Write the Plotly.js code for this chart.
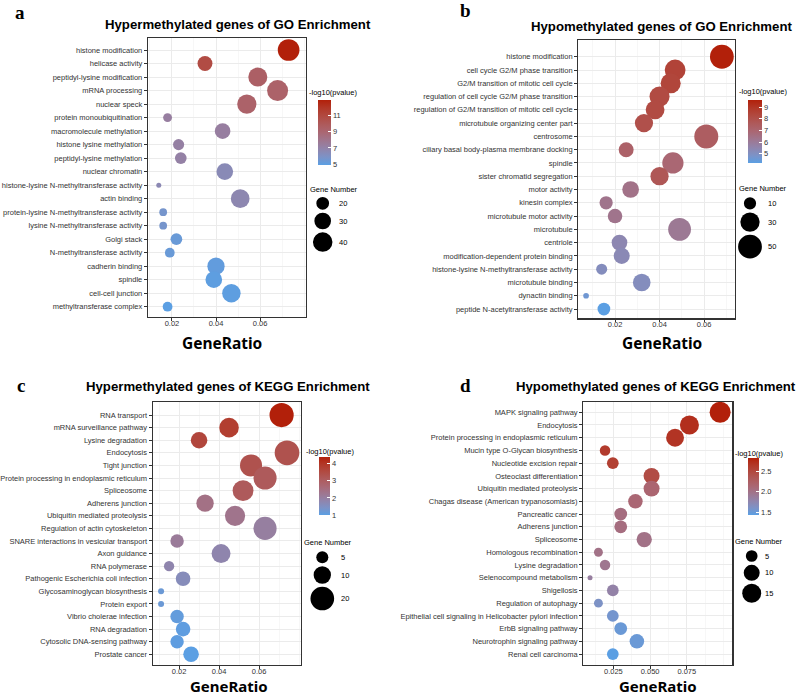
<!DOCTYPE html>
<html><head><meta charset="utf-8">
<script src="https://cdn.plot.ly/plotly-3.0.1.min.js"></script>
<style>html,body{margin:0;padding:0;background:#fff}#chart{width:800px;height:695px}</style>
</head><body><div id="chart"></div>
<script>
// ---------- Panel a : Hypermethylated genes, GO ----------
const termsA = ["histone modification","helicase activity","peptidyl-lysine modification","mRNA processing","nuclear speck","protein monoubiquitination","macromolecule methylation","histone lysine methylation","peptidyl-lysine methylation","nuclear chromatin","histone-lysine N-methyltransferase activity","actin binding","protein-lysine N-methyltransferase activity","lysine N-methyltransferase activity","Golgi stack","N-methyltransferase activity","cadherin binding","spindle","cell-cell junction","methyltransferase complex"];
const ratioA = [0.073,0.035,0.059,0.068,0.054,0.018,0.043,0.023,0.024,0.044,0.014,0.051,0.016,0.016,0.022,0.019,0.040,0.039,0.047,0.018];
const countA = [49,25,38,46,39,14,27,17,18,30,12,37,13,13,18,15,32,30,36,15];
const logpA  = [12.9,10.8,9.5,9.3,9.3,7.3,7.3,7.2,7.1,6.5,6.6,6.7,5.7,5.7,5.3,5.3,5.1,5.0,5.0,4.9];
const sizeBreaksA = [20,30,40];
const colorTicksA = [5,7,9,11];
const xTicksA = [0.02,0.04,0.06];

// ---------- Panel b : Hypomethylated genes, GO ----------
const termsB = ["histone modification","cell cycle G2/M phase transition","G2/M transition of mitotic cell cycle","regulation of cell cycle G2/M phase transition","regulation of G2/M transition of mitotic cell cycle","microtubule organizing center part","centrosome","ciliary basal body-plasma membrane docking","spindle","sister chromatid segregation","motor activity","kinesin complex","microtubule motor activity","microtubule","centriole","modification-dependent protein binding","histone-lysine N-methyltransferase activity","microtubule binding","dynactin binding","peptide N-acetyltransferase activity"];
const ratioB = [0.068,0.047,0.045,0.040,0.038,0.033,0.061,0.025,0.046,0.040,0.027,0.016,0.020,0.049,0.022,0.023,0.014,0.032,0.007,0.015];
const countB = [50,36,33,33,28,26,51,16,38,26,21,12,15,45,18,19,8,24,4,11];
const logpB  = [9.6,8.5,8.4,8.2,8.2,8.0,7.4,7.2,6.9,7.7,6.4,6.3,6.3,6.1,5.4,5.3,5.1,5.1,4.6,4.2];
const sizeBreaksB = [10,30,50];
const colorTicksB = [5,6,7,8,9];
const xTicksB = [0.02,0.04,0.06];

// ---------- Panel c : Hypermethylated genes, KEGG ----------
const termsC = ["RNA transport","mRNA surveillance pathway","Lysine degradation","Endocytosis","Tight junction","Protein processing in endoplasmic reticulum","Spliceosome","Adherens junction","Ubiquitin mediated proteolysis","Regulation of actin cytoskeleton","SNARE interactions in vesicular transport","Axon guidance","RNA polymerase","Pathogenic Escherichia coli infection","Glycosaminoglycan biosynthesis","Protein export","Vibrio cholerae infection","RNA degradation","Cytosolic DNA-sensing pathway","Prostate cancer"];
const ratioC = [0.0713,0.045,0.030,0.074,0.056,0.063,0.052,0.033,0.048,0.063,0.019,0.041,0.015,0.022,0.011,0.011,0.019,0.022,0.019,0.026];
const countC = [21,13,9,22,17,19,15,10,14,19,6,12,4,7,3,3,6,7,6,8];
const logpC  = [4.35,3.8,3.6,3.3,3.3,3.1,3.1,2.4,2.3,2.0,2.1,1.8,1.8,1.6,1.2,1.2,1.1,1.05,1.05,1.0];
const sizeBreaksC = [5,10,20];
const colorTicksC = [1,2,3,4];
const xTicksC = [0.02,0.04,0.06];

// ---------- Panel d : Hypomethylated genes, KEGG ----------
const termsD = ["MAPK signaling pathway","Endocytosis","Protein processing in endoplasmic reticulum","Mucin type O-Glycan biosynthesis","Nucleotide excision repair","Osteoclast differentiation","Ubiquitin mediated proteolysis","Chagas disease (American trypanosomiasis)","Pancreatic cancer","Adherens junction","Spliceosome","Homologous recombination","Lysine degradation","Selenocompound metabolism","Shigellosis","Regulation of autophagy","Epithelial cell signaling in Helicobacter pylori infection","ErbB signaling pathway","Neurotrophin signaling pathway","Renal cell carcinoma"];
const ratioD = [0.0977,0.0768,0.067,0.0193,0.0246,0.051,0.051,0.040,0.030,0.030,0.046,0.0148,0.0193,0.0091,0.0246,0.0148,0.0246,0.030,0.041,0.0246];
const countD = [19,15,13,4,5,10,10,8,6,6,9,3,4,2,5,3,5,6,8,5];
const logpD  = [2.83,2.72,2.68,2.62,2.58,2.45,2.15,2.12,2.05,2.05,2.0,2.0,1.95,1.85,1.8,1.6,1.55,1.5,1.5,1.42];
const sizeBreaksD = [5,10,15];
const colorTicksD = [1.5,2.0,2.5];
const xTicksD = [0.025,0.050,0.075];

const titles = ["Hypermethylated genes of GO Enrichment","Hypomethylated genes of GO Enrichment","Hypermethylated genes of KEGG Enrichment","Hypomethylated genes of KEGG Enrichment"];
const letters = ["a","b","c","d"];
const xLabel = "GeneRatio";
const colorTitle = "-log10(pvalue)";
const sizeTitle = "Gene Number";

// ---------- layout / style ----------
const W = 800, H = 695;
const FX = x => x / W, FY = y => 1 - y / H;
const SANS = "Liberation Sans, Arial, sans-serif";
const cs = [[0,'rgb(91,159,227)'],[0.125,'rgb(125,146,198)'],[0.25,'rgb(145,132,171)'],[0.375,'rgb(159,118,143)'],[0.5,'rgb(170,103,115)'],[0.625,'rgb(174,90,91)'],[0.75,'rgb(177,74,65)'],[0.875,'rgb(178,56,40)'],[1,'rgb(178,32,10)']];

const panels = [
  {terms:termsA, ratio:ratioA, count:countA, logp:logpA, sb:sizeBreaksA, ct:colorTicksA, xt:xTicksA,
   box:[148,306,38,317], xr:[0.0091,0.0809], pad:[0.89,0.76], dt:0.02, fmt:'.2f',
   cb:[318.3,100,65,13], cbt:[307,92.7], gnt:[307.7,189.3], lg:[322.7,203.3,336.7], d:[5,21.7],
   tt:[237.5,24.3], lt:[20,12], xl:[222,343], xs:15.5},
  {terms:termsB, ratio:ratioB, count:countB, logp:logpB, sb:sizeBreaksB, ct:colorTicksB, xt:xTicksB,
   box:[578.3,735,40,318.3], xr:[0.0035,0.0739], pad:[1.26,0.7], dt:0.02, fmt:'.2f',
   cb:[748,100,63,14], cbt:[736.7,91.7], gnt:[736.7,188.3], lg:[750,203.3,765.7], d:[5.7,24],
   tt:[661,26.7], lt:[465,10], xl:[661.7,342.7], xs:15.5},
  {terms:termsC, ratio:ratioC, count:countC, logp:logpC, sb:sizeBreaksC, ct:colorTicksC, xt:xTicksC,
   box:[152.7,301,401.7,665], xr:[0.0068,0.081], pad:[1.06,0.85], dt:0.02, fmt:'.2f',
   cb:[319,457.3,57.7,11], cbt:[304,451.7], gnt:[302.3,542.7], lg:[322.3,557.3,339.3], d:[6,24.7],
   tt:[228,386.7], lt:[21,385], xl:[229,685.5], xs:15},
  {terms:termsD, ratio:ratioD, count:countD, logp:logpD, sb:sizeBreaksD, ct:colorTicksD, xt:xTicksD,
   box:[583.3,732.3,401.7,665], xr:[0.0045,0.106], pad:[0.83,0.86], dt:0.025, fmt:'.3f',
   cb:[748,458.3,57.4,10.5], cbt:[733.3,453.3], gnt:[733.3,541.7], lg:[751.7,556,763.3], d:[5,21],
   tt:[656,386.7], lt:[465,385], xl:[658,685.5], xs:15}
];

const data = [];
const layout = {width:W, height:H, margin:{l:0,r:0,t:0,b:0}, paper_bgcolor:'#fff', plot_bgcolor:'#fff',
  showlegend:false, annotations:[], shapes:[], font:{family:SANS}};

panels.forEach((p, i) => {
  const k = i === 0 ? '' : String(i + 1);
  const nmin = Math.min(...p.count), nmax = Math.max(...p.count);
  const sz = n => p.d[0] + (p.d[1] - p.d[0]) * Math.sqrt(Math.max(0, (n - nmin) / (nmax - nmin)));
  const cmin = Math.min(...p.logp), cmax = Math.max(...p.logp);
  data.push({type:'scatter', mode:'markers', x:p.ratio, y:p.terms, xaxis:'x'+k, yaxis:'y'+k,
    marker:{size:p.count.map(sz), color:p.logp, coloraxis:'coloraxis'+k, line:{width:0}, opacity:1},
    hoverinfo:'x+y'});
  const n = p.terms.length;
  layout['xaxis'+k] = {domain:[FX(p.box[0]), FX(p.box[1])], anchor:'y'+k, range:p.xr,
    tickmode:'array', tickvals:p.xt, ticktext:p.xt.map(v => v.toFixed(p.fmt === '.3f' ? 3 : 2)),
    showgrid:true, gridcolor:'#EBEBEB', gridwidth:1,
    minor:{dtick:p.dt/2, tick0:0, showgrid:true, gridcolor:'#F2F2F2', gridwidth:0.6, ticks:''},
    showline:true, mirror:true, linecolor:'#333', linewidth:1.2, zeroline:false,
    ticks:'outside', ticklen:2.5, tickwidth:1, tickcolor:'#333', ticklabelstandoff:-4,
    tickfont:{family:SANS, size:7.5, color:'#333'}};
  layout['yaxis'+k] = {domain:[FY(p.box[3]), FY(p.box[2])], anchor:'x'+k, type:'category',
    categoryorder:'array', categoryarray:p.terms, range:[n - 1 + p.pad[1], -p.pad[0]],
    tickmode:'linear', tick0:0, dtick:1,
    showgrid:true, gridcolor:'#EBEBEB', gridwidth:1,
    showline:true, mirror:true, linecolor:'#333', linewidth:1.2, zeroline:false,
    ticks:'outside', ticklen:3, tickwidth:1, tickcolor:'#333',
    tickfont:{family:SANS, size:7.5, color:'#333'}};
  layout['coloraxis'+k] = {colorscale:cs, cmin:cmin, cmax:cmax,
    colorbar:{x:FX(p.cb[0]), xanchor:'left', y:FY(p.cb[1]), yanchor:'top', len:p.cb[2], lenmode:'pixels',
      thickness:p.cb[3], thicknessmode:'pixels', xpad:0, ypad:0, outlinewidth:0, borderwidth:0,
      tickmode:'array', tickvals:p.ct, ticktext:p.ct.map(v => i === 3 ? v.toFixed(1) : String(v)),
      ticks:'inside', ticklen:3, tickcolor:'#fff', tickfont:{family:SANS, size:7.5, color:'#333'},
      title:{text:''}}};
  const A = layout.annotations;
  A.push({text:'<b>'+titles[i]+'</b>', x:FX(p.tt[0]), y:FY(p.tt[1]), xref:'paper', yref:'paper',
    xanchor:'center', yanchor:'middle', showarrow:false, font:{family:SANS, size:13.2, color:'#000'}});
  A.push({text:'<b>'+letters[i]+'</b>', x:FX(p.lt[0]), y:FY(p.lt[1]), xref:'paper', yref:'paper',
    xanchor:'center', yanchor:'middle', showarrow:false, font:{family:'Liberation Serif, Times New Roman, serif', size:19, color:'#000'}});
  A.push({text:'<b>'+xLabel+'</b>', x:FX(p.xl[0]), y:FY(p.xl[1]), xref:'paper', yref:'paper',
    xanchor:'center', yanchor:'middle', showarrow:false, font:{family:'Noto Sans, sans-serif', size:p.xs, color:'#000'}});
  A.push({text:colorTitle, x:FX(p.cbt[0]), y:FY(p.cbt[1]), xref:'paper', yref:'paper',
    xanchor:'left', yanchor:'middle', showarrow:false, font:{family:SANS, size:7.5, color:'#000'}});
  A.push({text:sizeTitle, x:FX(p.gnt[0]), y:FY(p.gnt[1]), xref:'paper', yref:'paper',
    xanchor:'left', yanchor:'middle', showarrow:false, font:{family:SANS, size:7.5, color:'#000'}});
  // size legend
  let cy = p.lg[1], prev = null;
  p.sb.forEach(v => {
    const dd = sz(v);
    if (prev !== null) cy += (prev + dd) / 2 + 3;
    prev = dd;
    layout.shapes.push({type:'circle', xref:'paper', yref:'paper', xsizemode:'pixel', ysizemode:'pixel',
      xanchor:FX(p.lg[0]), yanchor:FY(cy), x0:-dd/2, x1:dd/2, y0:-dd/2, y1:dd/2,
      fillcolor:'#000', line:{width:0}});
    A.push({text:String(v), x:FX(p.lg[2]), y:FY(cy), xref:'paper', yref:'paper',
      xanchor:'left', yanchor:'middle', showarrow:false, font:{family:SANS, size:7.5, color:'#000'}});
  });
});

Plotly.newPlot('chart', data, layout, {staticPlot:true, displayModeBar:false});
</script></body></html>
